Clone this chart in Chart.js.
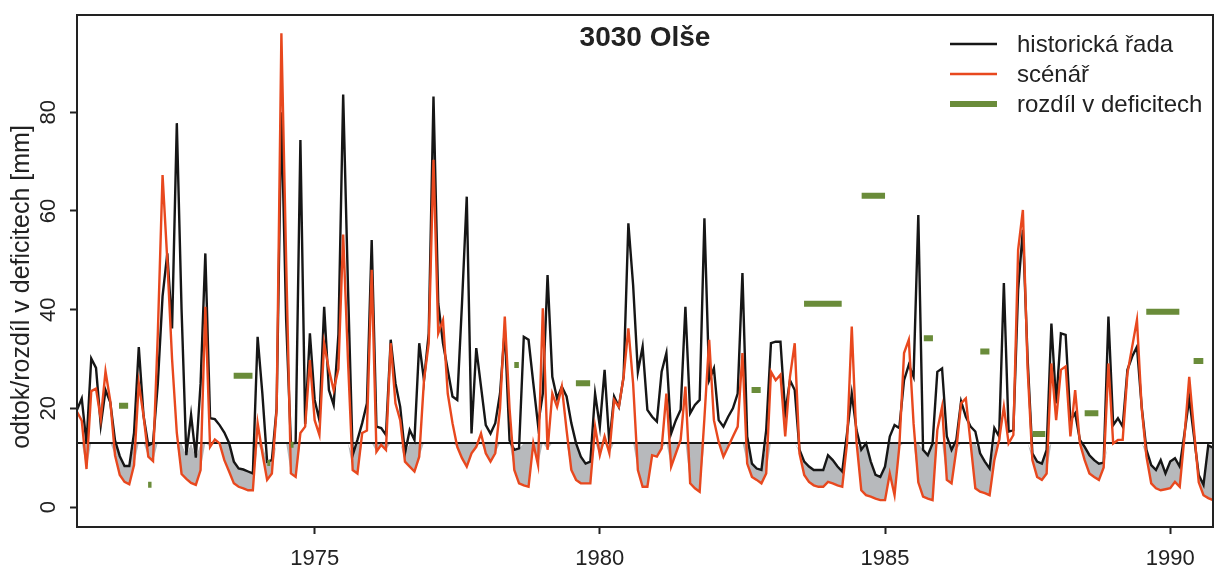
<!DOCTYPE html>
<html>
<head>
<meta charset="utf-8">
<title>3030 Olše</title>
<script src="https://cdn.jsdelivr.net/npm/chart.js@4.4.0/dist/chart.umd.min.js"></script>
<style>
  html, body { margin: 0; padding: 0; background: #ffffff; }
  #wrap { width: 1215px; height: 571px; }
</style>
</head>
<body>
<div id="wrap"><canvas id="c" width="1215" height="571"></canvas></div>
<script>
// Monthly runoff [mm], hydrological years 1971–1990 (first month: November 1970)
const startYear = 1970 + 10 / 12;

const hist = [
  19.7, 22.0, 12.9, 30.1, 28.2, 16.6, 23.7, 21.2, 13.5, 10.3, 8.3, 8.3,
  15.0, 32.4, 18.5, 12.5, 13.0, 25.0, 42.7, 51.4, 36.2, 77.8, 40.0, 10.5,
  18.7, 10.0, 25.0, 51.4, 18.0, 17.8, 16.6, 15.1, 13.0, 9.2, 7.8, 7.6,
  7.2, 6.8, 34.5, 23.0, 9.2, 9.5, 20.0, 80.0, 38.0, 12.9, 13.0, 74.4,
  16.8, 35.2, 21.7, 17.6, 40.6, 23.7, 20.7, 35.0, 83.6, 45.0, 10.5, 13.6,
  17.0, 21.0, 54.1, 16.3, 16.0, 14.6, 33.9, 25.1, 20.3, 10.9, 15.6, 13.6,
  33.2, 25.7, 35.2, 83.2, 41.3, 33.2, 27.8, 22.4, 21.7, 41.3, 62.9, 14.9,
  32.2, 24.4, 16.6, 14.9, 17.0, 23.0, 36.0, 13.5, 11.6, 11.9, 34.5, 33.9,
  25.1, 16.6, 23.0, 47.0, 26.4, 22.0, 24.4, 22.4, 17.0, 12.9, 10.2, 8.8,
  9.2, 23.0, 16.3, 27.8, 12.9, 22.4, 20.3, 26.4, 57.5, 45.0, 27.4, 32.5,
  19.7, 18.3, 17.3, 27.4, 31.2, 14.9, 17.6, 19.7, 40.6, 19.0, 20.7, 21.7,
  58.5, 25.7, 28.1, 17.6, 16.3, 18.3, 20.0, 23.0, 47.4, 14.3, 8.8, 7.8,
  7.5, 15.6, 33.2, 33.5, 33.5, 19.0, 25.7, 23.7, 11.6, 9.2, 8.2, 7.5,
  7.5, 7.5, 10.5, 9.5, 8.2, 7.2, 14.9, 23.0, 15.6, 11.6, 12.9, 9.2,
  6.5, 6.1, 8.2, 14.3, 16.6, 16.0, 25.7, 28.8, 26.4, 59.2, 11.6, 10.5,
  12.9, 27.4, 28.1, 14.3, 11.6, 13.6, 21.4, 18.3, 16.3, 15.3, 10.9, 9.2,
  7.8, 16.0, 14.3, 45.4, 15.3, 15.6, 44.0, 56.2, 30.0, 10.9, 9.2, 8.8,
  11.6, 37.2, 21.0, 35.2, 34.9, 17.6, 19.0, 13.6, 12.2, 10.5, 9.5, 8.8,
  9.0, 38.6, 16.6, 18.0, 16.3, 27.8, 30.5, 32.5, 20.3, 11.6, 8.5, 7.5,
  9.5, 6.8, 9.2, 9.9, 8.2, 14.9, 22.0, 14.3, 6.5, 4.5, 12.5, 12.0
];

const scen = [
  19.3, 17.5, 7.7, 23.5, 24.0, 17.8, 27.5, 21.5, 10.5, 6.5, 5.1, 4.6,
  8.5, 25.1, 18.5, 10.2, 9.3, 35.0, 67.3, 50.0, 30.0, 15.0, 6.7, 5.7,
  4.9, 4.5, 7.5, 40.6, 12.2, 13.7, 12.9, 9.5, 7.2, 4.8, 4.1, 3.8,
  3.4, 3.4, 17.0, 10.9, 5.5, 6.8, 19.7, 96.0, 50.0, 6.8, 6.1, 15.0,
  16.3, 29.8, 17.6, 14.6, 33.2, 27.8, 23.7, 28.0, 55.2, 30.0, 7.5, 6.8,
  15.0, 15.5, 48.1, 11.2, 12.6, 11.6, 33.2, 21.0, 17.6, 9.2, 8.2, 7.2,
  10.2, 25.7, 33.2, 70.4, 35.2, 37.9, 23.0, 17.0, 12.2, 9.9, 8.2, 10.9,
  12.2, 14.9, 10.9, 9.2, 10.9, 20.0, 38.6, 20.0, 7.5, 4.8, 4.4, 4.1,
  12.9, 8.5, 40.3, 11.6, 23.0, 20.3, 24.4, 15.6, 7.5, 5.5, 4.8, 4.8,
  4.8, 16.3, 10.5, 14.3, 10.9, 21.7, 20.3, 26.4, 36.2, 25.0, 7.5, 4.1,
  4.1, 10.5, 10.2, 11.9, 23.0, 8.2, 10.9, 13.6, 24.4, 4.8, 3.8, 3.1,
  18.0, 33.9, 17.6, 13.2, 10.2, 12.2, 14.3, 16.3, 31.2, 8.8, 6.1, 5.5,
  4.8, 6.8, 27.4, 25.7, 26.8, 14.3, 26.4, 33.2, 10.9, 6.5, 5.1, 4.4,
  4.1, 4.1, 5.1, 4.8, 4.4, 4.1, 12.9, 36.6, 13.2, 3.4, 2.4, 2.1,
  1.7, 1.4, 1.4, 6.8, 2.4, 12.2, 31.2, 33.9, 17.0, 5.0, 2.1, 1.7,
  1.4, 15.6, 20.3, 5.5, 4.8, 11.6, 21.0, 22.0, 12.9, 3.8, 3.1, 2.8,
  2.4, 9.5, 13.6, 20.3, 12.9, 14.6, 52.1, 60.2, 28.0, 9.5, 6.1, 5.5,
  6.8, 29.1, 17.6, 27.8, 28.5, 14.3, 23.7, 12.9, 9.5, 6.8, 6.1, 5.5,
  8.0, 29.1, 12.9, 13.6, 13.6, 27.1, 32.5, 37.9, 20.0, 10.2, 4.8, 3.8,
  3.4, 3.6, 3.8, 5.1, 4.1, 14.3, 26.4, 15.6, 5.0, 2.4, 1.8, 1.4
];

// Deficit threshold [mm]
const threshold = 13.0;

// Differences in deficit volume, one per deficit period
const deficitStart = [1971.57, 1972.08, 1973.58, 1974.17, 1974.58, 1978.50, 1979.58, 1982.66,
                      1983.58, 1984.59, 1985.68, 1986.67, 1987.59, 1988.50, 1989.58, 1990.41];
const deficitEnd   = [1971.73, 1972.14, 1973.91, 1974.22, 1974.63, 1978.58, 1979.83, 1982.82,
                      1984.24, 1985.00, 1985.84, 1986.83, 1987.81, 1988.74, 1990.16, 1990.58];
const deficitDiff  = [20.5, 4.5, 26.6, 8.9, 12.6, 28.8, 25.1, 23.7,
                      41.2, 63.1, 34.2, 31.5, 14.8, 19.0, 39.6, 29.6];

const xTicks = [1975, 1980, 1985, 1990];
const yTicks = [0, 20, 40, 60, 80];

const titleText = '3030 Olše';
const yTitle = 'odtok/rozdíl v deficitech [mm]';
const legendLabels = ['historická řada', 'scénář', 'rozdíl v deficitech'];

const FONT = "'Liberation Sans', Arial, Helvetica, sans-serif";
const BLACK = '#161616';
const RED = '#e8481e';
const GREEN = '#6a8c3a';
const GREY = '#b7b9bc';
const INK = '#222222';

const toXY = arr => arr.map((v, i) => ({ x: startYear + i / 12, y: v }));
const clipAt = arr => arr.map(v => Math.min(v, threshold));
const xMin = startYear;
const xMax = startYear + (hist.length - 1) / 12;

const barPoints = [];
deficitDiff.forEach((v, k) => {
  barPoints.push({ x: deficitStart[k], y: v }, { x: deficitEnd[k], y: v }, { x: deficitEnd[k], y: null });
});

// Frame, title, rotated y labels and the in-plot legend
const decor = {
  id: 'decor',
  afterDraw(chart) {
    const { ctx, chartArea: a, scales } = chart;
    ctx.save();
    ctx.strokeStyle = INK;
    ctx.lineWidth = 2;
    ctx.strokeRect(a.left, a.top, a.right - a.left, a.bottom - a.top);

    ctx.fillStyle = INK;
    ctx.font = `bold 28px ${FONT}`;
    ctx.textAlign = 'center';
    ctx.textBaseline = 'alphabetic';
    ctx.fillText(titleText, (a.left + a.right) / 2, 46);

    ctx.font = `22px ${FONT}`;
    ctx.textBaseline = 'middle';
    yTicks.forEach(v => {
      const py = scales.y.getPixelForValue(v);
      ctx.save();
      ctx.translate(49, py);
      ctx.rotate(-Math.PI / 2);
      ctx.textAlign = 'center';
      ctx.fillText(String(v), 0, 0);
      ctx.restore();
    });

    ctx.font = `25px ${FONT}`;
    ctx.save();
    ctx.translate(22, 287);
    ctx.rotate(-Math.PI / 2);
    ctx.textAlign = 'center';
    ctx.fillText(yTitle, 0, 0);
    ctx.restore();

    const styles = [
      { color: BLACK, width: 2.4 },
      { color: RED, width: 2.4 },
      { color: GREEN, width: 6 }
    ];
    ctx.font = `24px ${FONT}`;
    ctx.textAlign = 'left';
    legendLabels.forEach((label, k) => {
      const ly = 44 + k * 30;
      ctx.strokeStyle = styles[k].color;
      ctx.lineWidth = styles[k].width;
      ctx.lineCap = 'butt';
      ctx.beginPath();
      ctx.moveTo(950, ly);
      ctx.lineTo(997, ly);
      ctx.stroke();
      ctx.fillStyle = INK;
      ctx.fillText(label, 1017, ly + 1);
    });
    ctx.restore();
  }
};

const whiteBg = {
  id: 'whiteBg',
  beforeDraw(chart) {
    const { ctx } = chart;
    ctx.save();
    ctx.fillStyle = '#ffffff';
    ctx.fillRect(0, 0, chart.width, chart.height);
    ctx.restore();
  }
};

new Chart(document.getElementById('c'), {
  type: 'line',
  data: {
    datasets: [
      { label: legendLabels[2], data: barPoints, borderColor: GREEN, borderWidth: 6,
        borderCapStyle: 'butt', pointRadius: 0, spanGaps: false, fill: false, order: 0 },
      { label: legendLabels[1], data: toXY(scen), borderColor: RED, borderWidth: 2.4,
        pointRadius: 0, fill: false, tension: 0, order: 1 },
      { label: legendLabels[0], data: toXY(hist), borderColor: BLACK, borderWidth: 2.4,
        pointRadius: 0, fill: false, tension: 0, order: 2 },
      { label: 'threshold', data: [{ x: xMin, y: threshold }, { x: xMax, y: threshold }],
        borderColor: BLACK, borderWidth: 2, pointRadius: 0, fill: false, order: 3 },
      { label: 'hist below threshold', data: toXY(clipAt(hist)), borderColor: 'rgba(0,0,0,0)',
        borderWidth: 0, pointRadius: 0, fill: false, order: 5 },
      { label: 'scen below threshold', data: toXY(clipAt(scen)), borderColor: 'rgba(0,0,0,0)',
        borderWidth: 0, pointRadius: 0,
        fill: { target: 4, above: 'rgba(0,0,0,0)', below: GREY }, order: 4 }
    ]
  },
  options: {
    responsive: false,
    devicePixelRatio: 1,
    animation: false,
    layout: { padding: { top: 15, right: 2, left: 0, bottom: 0 } },
    plugins: { legend: { display: false }, tooltip: { enabled: false }, title: { display: false } },
    scales: {
      x: {
        type: 'linear', min: xMin, max: xMax,
        afterBuildTicks: s => { s.ticks = xTicks.map(v => ({ value: v })); },
        afterFit: s => { s.height = 44; },
        grid: { drawOnChartArea: false, drawTicks: true, tickLength: 7, tickWidth: 2, tickColor: INK },
        border: { display: false },
        ticks: { font: { family: FONT, size: 22 }, color: INK, padding: 12, maxRotation: 0,
                 autoSkip: false, callback: v => String(v) }
      },
      y: {
        type: 'linear', min: -4.05, max: 99.72,
        afterBuildTicks: s => { s.ticks = yTicks.map(v => ({ value: v })); },
        afterFit: s => { s.width = 77; },
        grid: { drawOnChartArea: false, drawTicks: true, tickLength: 7, tickWidth: 2, tickColor: INK },
        border: { display: false },
        ticks: { display: false }
      }
    }
  },
  plugins: [whiteBg, decor]
});
</script>
</body>
</html>
